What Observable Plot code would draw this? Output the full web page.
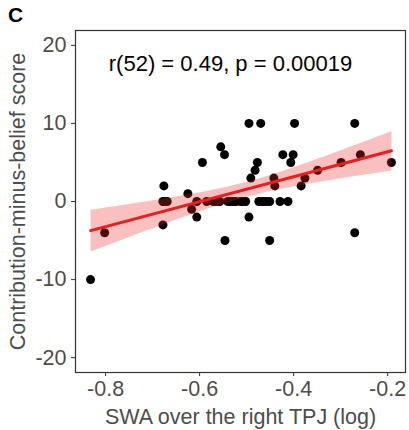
<!DOCTYPE html>
<html>
<head>
<meta charset="utf-8">
<script src="https://cdn.jsdelivr.net/npm/d3@7"></script>
<script src="https://cdn.jsdelivr.net/npm/@observablehq/plot@0.6"></script>
<style>
  html, body { margin: 0; padding: 0; background: #fff; }
  #chart { position: relative; width: 409px; height: 430px; font-family: "Liberation Sans", Arial, sans-serif; }
  #panel-tag { position: absolute; left: 8px; top: 3px; font-size: 21px; font-weight: bold; color: #000; }
</style>
</head>
<body>
<div id="chart"><div id="panel-tag">C</div></div>
<script>
const swa = [
  -0.832, -0.802, -0.676, -0.678, -0.669, -0.678, -0.625, -0.617, -0.606, -0.606,
  -0.594, -0.585, -0.571, -0.557, -0.555, -0.547, -0.546, -0.534, -0.523, -0.513,
  -0.502, -0.495, -0.470, -0.495, -0.491, -0.482, -0.477, -0.474, -0.463, -0.451,
  -0.451, -0.442, -0.440, -0.429, -0.412, -0.423, -0.401, -0.406, -0.398, -0.384,
  -0.376, -0.349, -0.299, -0.270, -0.270, -0.258, -0.192,
  -0.676, -0.565, -0.540, -0.528, -0.508, -0.468, -0.457
];
const score = [
  -10, -4, 2, 0, 0, -3, 1, -1, 0, -2,
  5, 0, 0, 0, 7, 6, -5, 0, 0, 0,
  0, 10, 10, -2, 3, 4, 5, 0, 0, 0,
  -5, 3, 2, 0, 0, 6, 6, 5, 10, 2,
  3, 4, 5, 10, -4, 6, 5,
  0, 0, 0, 0, 0, 0, 0
];
const xTicks = [-0.8, -0.6, -0.4, -0.2];
const yTicks = [-20, -10, 0, 10, 20];
const annotation = "r(52) = 0.49, p = 0.00019";
const xLabel = "SWA over the right TPJ (log)";
const yLabel = "Contribution-minus-belief score";

const data = swa.map((x, i) => ({x, y: score[i]}));

const chart = Plot.plot({
  width: 409,
  height: 430,
  marginLeft: 75,
  marginRight: 4,
  marginTop: 30,
  marginBottom: 58,
  style: {fontFamily: "Liberation Sans, Arial, sans-serif", background: "#fff"},
  x: {domain: [-0.864, -0.162]},
  y: {domain: [-21.9, 21.9]},
  marks: [
    Plot.dot(data, {x: "x", y: "y", r: 4.5, fill: "#000", stroke: "none"}),
    Plot.linearRegressionY(data, {x: "x", y: "y", stroke: "#ee1c1c", strokeWidth: 3, fill: "#f03030", fillOpacity: 0.3, ci: 0.95}),
    Plot.frame({stroke: "#333", strokeWidth: 1.2}),
    Plot.text([annotation], {frameAnchor: "top", lineAnchor: "middle", dy: 33, dx: -10, fontSize: 22, fill: "#000", text: d => d}),
    Plot.axisX({ticks: xTicks, tickSize: 4, tickPadding: 4, fontSize: 21.5, fill: "#4d4d4d", stroke: "#333",
      tickFormat: d => d.toFixed(1),
      label: xLabel, labelAnchor: "center", labelArrow: "none", labelOffset: 51}),
    Plot.axisY({ticks: yTicks, tickSize: 4, tickPadding: 5, fontSize: 21.5, fill: "#4d4d4d", stroke: "#333",
      tickFormat: d => String(d),
      label: yLabel, labelAnchor: "center", labelArrow: "none", labelOffset: 66})
  ]
});
document.getElementById("chart").appendChild(chart);
</script>
</body>
</html>
